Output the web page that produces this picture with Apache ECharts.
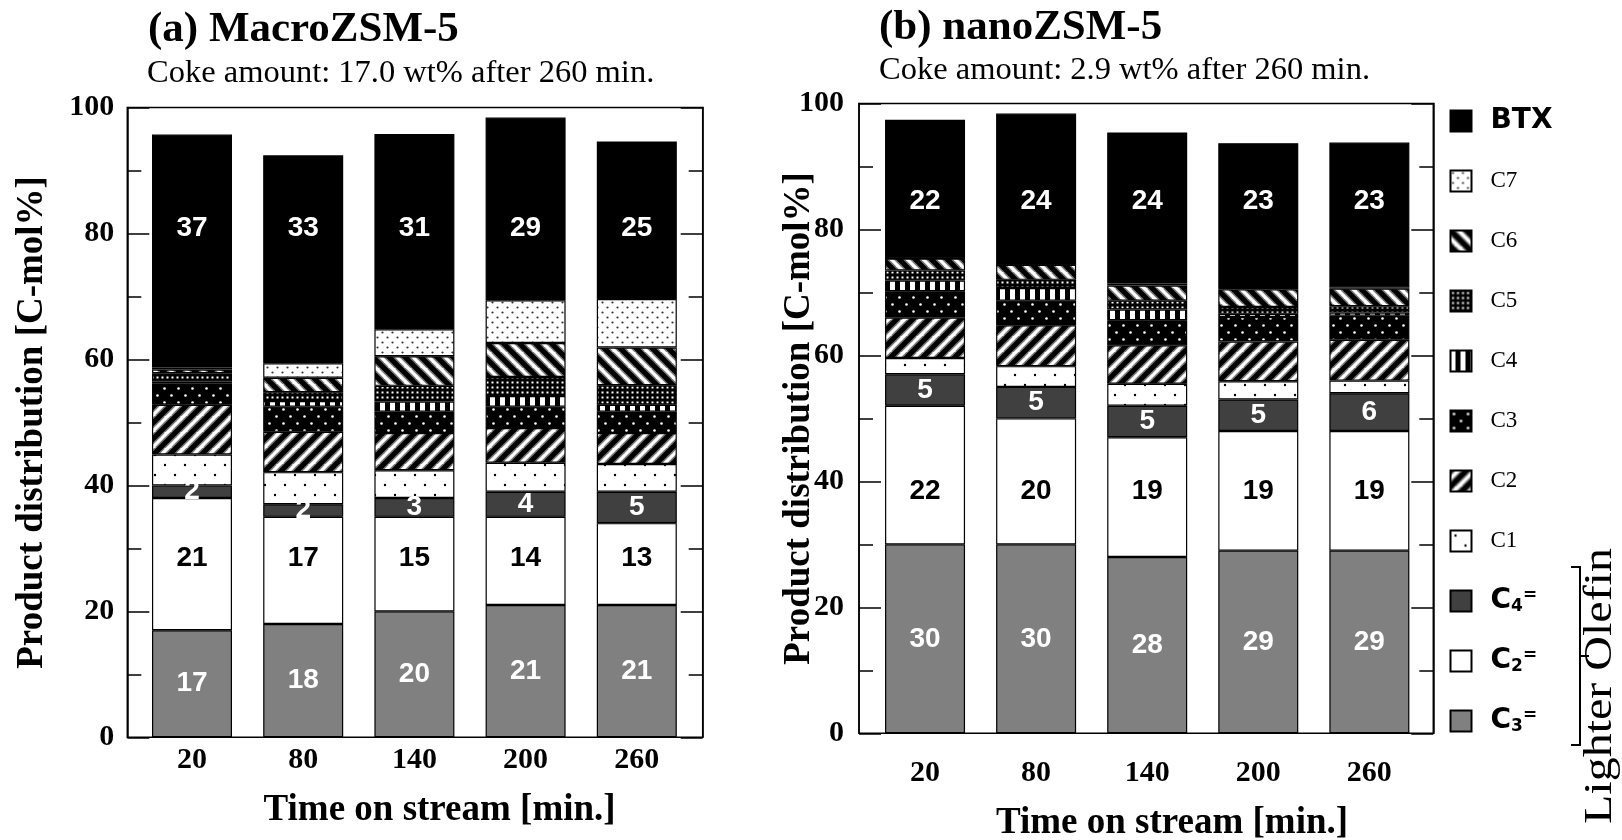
<!DOCTYPE html>
<html>
<head>
<meta charset="utf-8">
<script src="https://cdn.jsdelivr.net/npm/echarts@6/dist/echarts.min.js"></script>
<style>
  html, body { margin: 0; padding: 0; background: #fff; }
  #chart { width: 1622px; height: 840px; }
</style>
</head>
<body>
<div id="chart"></div>
<script>
// Time on stream [min.]
const times = ['20', '80', '140', '200', '260'];

// (a) MacroZSM-5, product distribution [C-mol%]
const macroC3ene = [17, 18, 20, 21, 21];
const macroC2ene = [21, 17, 15, 14, 13];
const macroC4ene = [2, 2, 3, 4, 5];
const macroC1 = [4.9, 5.1, 4.4, 4.6, 4.4];
const macroC2 = [7.9, 6.4, 5.9, 5.5, 4.9];
const macroC3 = [3.4, 4.0, 3.4, 3.4, 3.4];
const macroC4 = [0.3, 0.9, 1.6, 1.7, 1.1];
const macroC5 = [1.3, 1.4, 2.5, 3.0, 3.1];
const macroC6 = [0.6, 2.3, 4.7, 5.4, 6.0];
const macroC7 = [0.3, 2.3, 4.3, 6.8, 7.7];
const macroBTX = [37, 33, 31, 29, 25];

// (b) nanoZSM-5, product distribution [C-mol%]
const nanoC3ene = [30, 30, 28, 29, 29];
const nanoC2ene = [22, 20, 19, 19, 19];
const nanoC4ene = [5, 5, 5, 5, 6];
const nanoC1 = [2.6, 3.3, 3.5, 2.9, 2.0];
const nanoC2 = [6.4, 6.5, 6.1, 6.3, 6.5];
const nanoC3 = [4.2, 3.9, 4.0, 3.9, 3.8];
const nanoC4 = [1.7, 2.0, 1.7, 0.5, 0.5];
const nanoC5 = [1.6, 1.3, 1.4, 1.1, 1.0];
const nanoC6 = [1.9, 2.4, 2.4, 2.8, 2.8];
const nanoC7 = [0, 0, 0.3, 0.2, 0.2];
const nanoBTX = [22, 24, 24, 23, 23];

// Legend order (top to bottom) and stacking order (bottom to top)
const legendNames = ['BTX', 'C7', 'C6', 'C5', 'C4', 'C3', 'C2', 'C1', 'C4=', 'C2=', 'C3='];
const stackOrder = ['C3=', 'C2=', 'C4=', 'C1', 'C2', 'C3', 'C4', 'C5', 'C6', 'C7', 'BTX'];

const macroSet = {
  'C3=': macroC3ene, 'C2=': macroC2ene, 'C4=': macroC4ene, 'C1': macroC1, 'C2': macroC2,
  'C3': macroC3, 'C4': macroC4, 'C5': macroC5, 'C6': macroC6, 'C7': macroC7, 'BTX': macroBTX
};
const nanoSet = {
  'C3=': nanoC3ene, 'C2=': nanoC2ene, 'C4=': nanoC4ene, 'C1': nanoC1, 'C2': nanoC2,
  'C3': nanoC3, 'C4': nanoC4, 'C5': nanoC5, 'C6': nanoC6, 'C7': nanoC7, 'BTX': nanoBTX
};

const SERIF = '"Liberation Serif", "Times New Roman", serif';
const SANS = '"Liberation Sans", Arial, sans-serif';
const WIDE_SANS = '"DejaVu Sans", "Liberation Sans", sans-serif';

// ---------- fill patterns ----------
function tile(w, h, draw) {
  const c = document.createElement('canvas');
  c.width = w; c.height = h;
  const ctx = c.getContext('2d');
  draw(ctx, w, h);
  return { image: c, repeat: 'repeat' };
}
function dots(bg, fg, size, pts, r) {
  return tile(size, size, (ctx) => {
    ctx.fillStyle = bg; ctx.fillRect(0, 0, size, size);
    ctx.fillStyle = fg;
    pts.forEach(([x, y]) => { ctx.beginPath(); ctx.arc(x, y, r, 0, Math.PI * 2); ctx.fill(); });
  });
}
function stripes(forward) {
  const s = 16;
  return tile(s, s, (ctx) => {
    ctx.fillStyle = '#fff'; ctx.fillRect(0, 0, s, s);
    const pass = (color, width) => {
      ctx.strokeStyle = color; ctx.lineWidth = width;
      for (let k = -s; k <= s; k += s) {
        ctx.beginPath();
        if (forward) { ctx.moveTo(k - 2, s + 2); ctx.lineTo(k + s + 2, -2); }
        else { ctx.moveTo(k - 2, -2); ctx.lineTo(k + s + 2, s + 2); }
        ctx.stroke();
      }
    };
    pass('#777', 8);
    pass('#000', 5);
  });
}
const fills = {
  'BTX': '#000000',
  'C7': dots('#ffffff', '#333333', 10, [[2.5, 2.5], [7.5, 7.5]], 1.1),
  'C6': stripes(false),
  'C5': tile(5, 5, (ctx) => {
    ctx.fillStyle = '#000'; ctx.fillRect(0, 0, 5, 5);
    ctx.fillStyle = '#fff'; ctx.fillRect(1.5, 1.5, 2, 2);
  }),
  'C4': tile(10, 10, (ctx) => {
    ctx.fillStyle = '#fff'; ctx.fillRect(0, 0, 10, 10);
    ctx.fillStyle = '#000'; ctx.fillRect(5, 0, 5, 10);
  }),
  'C3': dots('#000000', '#ffffff', 14, [[3.5, 3.5], [10.5, 10.5]], 1.3),
  'C2': stripes(true),
  'C1': dots('#ffffff', '#000000', 20, [[5, 5], [15, 15]], 1.2),
  'C4=': '#404040',
  'C2=': '#ffffff',
  'C3=': '#808080'
};
const labelColors = { 'BTX': '#fff', 'C4=': '#fff', 'C2=': '#000', 'C3=': '#fff' };

// Some value labels sit at one common height per panel instead of the segment centre
const macroLabelLevels = { 'BTX': 80.9, 'C2=': 28.5 };
const nanoLabelLevels = { 'BTX': 84.4, 'C2=': 38.5 };
const PX_PER_UNIT = 629.8 / 100;

function buildSeries(set, stackId, xIdx, yIdx, levels) {
  return stackOrder.map((name, si) => {
    const values = set[name];
    const labelled = name in labelColors;
    const data = values.map((v, i) => {
      if (levels && levels[name] != null) {
        let base = 0;
        for (let k = 0; k < si; k++) base += set[stackOrder[k]][i];
        const centre = base + v / 2;
        return { value: v, label: { offset: [0, (centre - levels[name]) * PX_PER_UNIT] } };
      }
      return v;
    });
    return {
      type: 'bar',
      name: name,
      stack: stackId,
      xAxisIndex: xIdx,
      yAxisIndex: yIdx,
      barWidth: 80,
      data: data,
      itemStyle: { color: fills[name], borderColor: '#000', borderWidth: 1.2 },
      label: {
        show: labelled,
        position: 'inside',
        formatter: '{c}',
        color: labelColors[name] || '#000',
        fontFamily: SANS,
        fontWeight: 'bold',
        fontSize: 28
      },
      emphasis: { disabled: true },
      animation: false
    };
  });
}

function frameY(gridIndex, position, withLabels, nameGap, labelMargin) {
  return {
    type: 'value', gridIndex: gridIndex, position: position,
    min: 0, max: 100, interval: 20,
    axisLine: { show: true, lineStyle: { color: '#000', width: 1.5 } },
    axisTick: { show: true, inside: true, length: 22, lineStyle: { color: '#000', width: 1.5 } },
    minorTick: { show: true, splitNumber: 2, length: 14, lineStyle: { color: '#000', width: 1.5 } },
    splitLine: { show: false },
    minorSplitLine: { show: false },
    axisLabel: {
      show: withLabels, margin: labelMargin || 10, color: '#000',
      fontFamily: SERIF, fontWeight: 'bold', fontSize: 30
    },
    name: withLabels ? 'Product distribution [C-mol%]' : '',
    nameLocation: 'middle',
    nameGap: nameGap,
    nameMoveOverlap: false,
    nameTextStyle: { fontFamily: SERIF, fontWeight: 'bold', fontSize: 37, color: '#000' }
  };
}
function barsX(gridIndex, margin) {
  return {
    type: 'category', gridIndex: gridIndex, data: times,
    axisLine: { show: false }, axisTick: { show: false }, splitLine: { show: false },
    axisLabel: { margin: margin, color: '#000', fontFamily: SERIF, fontWeight: 'bold', fontSize: 30 }
  };
}

// Legend: one entry per row, rows 60px apart
const LEGEND_FIRST_ROW = 121;
const LEGEND_ROW_STEP = 60;
function legendText(name) {
  if (name === 'BTX') return '{bx|BTX}';
  const m = name.match(/^C(\d)=$/);
  if (m) return '{ol|C}{sub|' + m[1] + '}{sup|=}';
  return '{c|' + name + '}';
}
const legendRich = {
  bx: { fontFamily: WIDE_SANS, fontWeight: 'bold', fontSize: 28, lineHeight: 28, color: '#000' },
  c: { fontFamily: SERIF, fontSize: 23, lineHeight: 28, color: '#000' },
  ol: { fontFamily: WIDE_SANS, fontWeight: 'bold', fontSize: 28, lineHeight: 28, color: '#000' },
  sub: { fontFamily: WIDE_SANS, fontWeight: 'bold', fontSize: 17, lineHeight: 12, verticalAlign: 'bottom', color: '#000' },
  sup: { fontFamily: WIDE_SANS, fontWeight: 'bold', fontSize: 17, lineHeight: 12, verticalAlign: 'top', color: '#000' }
};
const legends = legendNames.map((name, i) => ({
  orient: 'vertical',
  left: 1449.5,
  top: LEGEND_FIRST_ROW + LEGEND_ROW_STEP * i - 14,
  height: 28,
  padding: 0,
  itemWidth: 21,
  itemHeight: 21,
  selectedMode: false,
  icon: 'rect',
  data: [name],
  formatter: legendText,
  textStyle: { color: '#000', padding: [0, 0, 0, 14], lineHeight: 28, rich: legendRich }
}));

const chart = echarts.init(document.getElementById('chart'), null, { renderer: 'canvas' });

const option = {
  backgroundColor: '#ffffff',
  animation: false,
  grid: [
    { left: 127.3, top: 107.5, width: 575.4, height: 629.8, show: true, borderColor: '#000', borderWidth: 1.5, backgroundColor: 'transparent', outerBoundsMode: 'none' },
    { left: 136.4, top: 107.5, width: 556, height: 629.8, outerBoundsMode: 'none' },
    { left: 859, top: 103.5, width: 574.3, height: 629.8, show: true, borderColor: '#000', borderWidth: 1.5, backgroundColor: 'transparent', outerBoundsMode: 'none' },
    { left: 869.5, top: 103.5, width: 555.4, height: 629.8, outerBoundsMode: 'none' }
  ],
  xAxis: [
    { type: 'value', gridIndex: 0, min: 0, max: 1, show: false },
    barsX(1, 8),
    { type: 'value', gridIndex: 2, min: 0, max: 1, show: false },
    barsX(3, 25)
  ],
  yAxis: [
    frameY(0, 'left', true, 76, 13),
    frameY(0, 'right', false, 0),
    { type: 'value', gridIndex: 1, min: 0, max: 100, show: false },
    frameY(2, 'left', true, 41, 15),
    frameY(2, 'right', false, 0),
    { type: 'value', gridIndex: 3, min: 0, max: 100, show: false }
  ],
  legend: legends,
  graphic: [
    { type: 'text', x: 148, y: 30, style: { text: '(a) MacroZSM-5', font: 'bold 43px ' + SERIF, fill: '#000', verticalAlign: 'middle', align: 'left' } },
    { type: 'text', x: 147, y: 73, style: { text: 'Coke amount: 17.0 wt% after 260 min.', font: '32.5px ' + SERIF, fill: '#000', verticalAlign: 'middle', align: 'left' } },
    { type: 'text', x: 879, y: 28, style: { text: '(b) nanoZSM-5', font: 'bold 43px ' + SERIF, fill: '#000', verticalAlign: 'middle', align: 'left' } },
    { type: 'text', x: 879, y: 70, style: { text: 'Coke amount: 2.9 wt% after 260 min.', font: '32.5px ' + SERIF, fill: '#000', verticalAlign: 'middle', align: 'left' } },
    { type: 'text', x: 439.6, y: 810, style: { text: 'Time on stream [min.]', font: 'bold 37px ' + SERIF, fill: '#000', verticalAlign: 'middle', align: 'center' } },
    { type: 'text', x: 1172, y: 823, style: { text: 'Time on stream [min.]', font: 'bold 37px ' + SERIF, fill: '#000', verticalAlign: 'middle', align: 'center' } },
    // brace grouping the three light olefins
    { type: 'polyline', shape: { points: [[1571, 567], [1580, 567], [1580, 745], [1571, 745]] }, style: { stroke: '#000', lineWidth: 2, fill: null } },
    { type: 'line', shape: { x1: 1580, y1: 656, x2: 1589, y2: 656 }, style: { stroke: '#000', lineWidth: 2 } },
    { type: 'text', x: 1600, y: 686, rotation: Math.PI / 2, scaleX: 1.2, style: { text: 'Lighter Olefin', font: '40px ' + SERIF, fill: '#000', verticalAlign: 'middle', align: 'center' } }
  ],
  series: [].concat(
    buildSeries(macroSet, 'macro', 1, 2, macroLabelLevels),
    buildSeries(nanoSet, 'nano', 3, 5, nanoLabelLevels)
  )
};

chart.setOption(option);
</script>
</body>
</html>
